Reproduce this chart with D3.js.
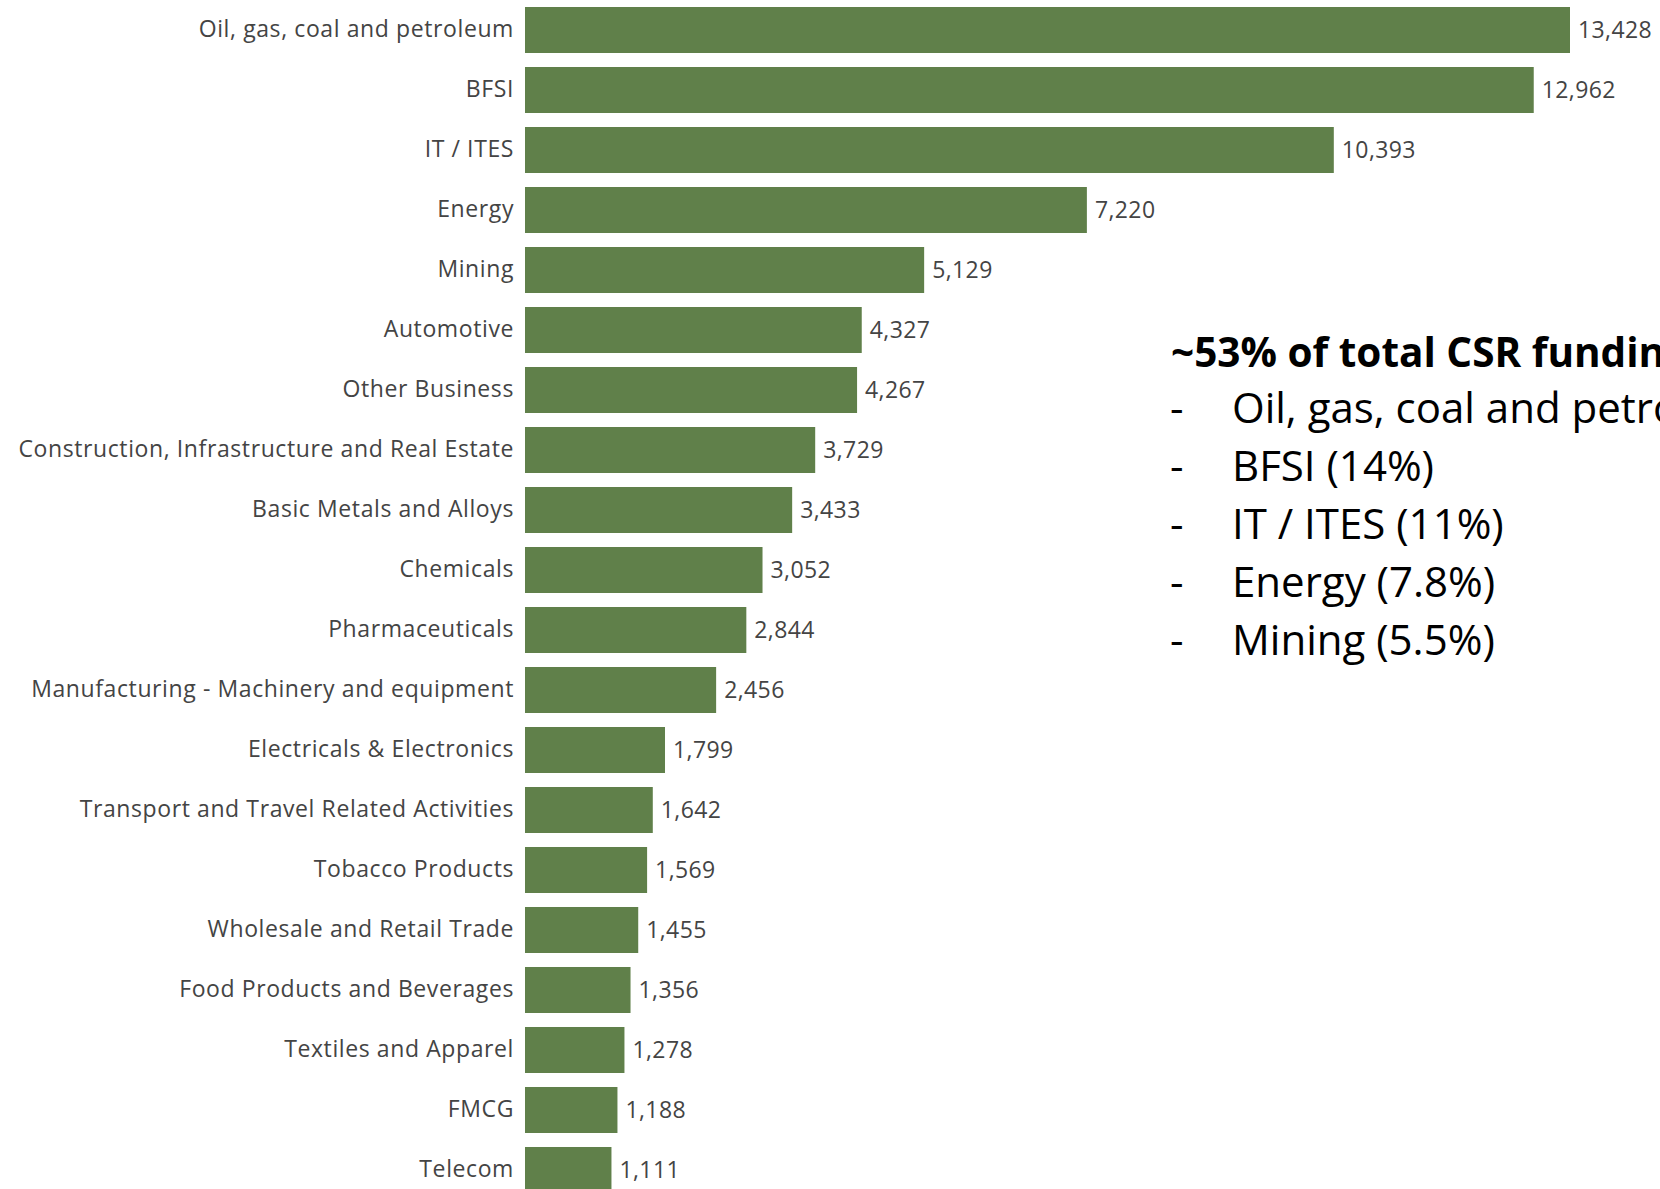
<!DOCTYPE html>
<html>
<head>
<meta charset="utf-8">
<script src="https://cdn.jsdelivr.net/npm/d3@7"></script>
<style>
  html, body { margin: 0; padding: 0; background: #ffffff; overflow: hidden; }
  svg { display: block; }
</style>
</head>
<body>
<svg id="chart" width="1660" height="1189"></svg>
<script>
// CSR spend by industry sector (INR crore)
const categories = [
  "Oil, gas, coal and petroleum",
  "BFSI",
  "IT / ITES",
  "Energy",
  "Mining",
  "Automotive",
  "Other Business",
  "Construction, Infrastructure and Real Estate",
  "Basic Metals and Alloys",
  "Chemicals",
  "Pharmaceuticals",
  "Manufacturing - Machinery and equipment",
  "Electricals & Electronics",
  "Transport and Travel Related Activities",
  "Tobacco Products",
  "Wholesale and Retail Trade",
  "Food Products and Beverages",
  "Textiles and Apparel",
  "FMCG",
  "Telecom"
];
const values = [
  13428, 12962, 10393, 7220, 5129, 4327, 4267, 3729, 3433, 3052,
  2844, 2456, 1799, 1642, 1569, 1455, 1356, 1278, 1188, 1111
];

// Callout text
const calloutTitle = "~53% of total CSR funding";
const calloutItems = [
  "Oil, gas, coal and petroleum (14.5%)",
  "BFSI (14%)",
  "IT / ITES (11%)",
  "Energy (7.8%)",
  "Mining (5.5%)"
];

const data = categories.map((c, i) => ({ category: c, value: values[i] }));
const svg = d3.select("#chart");

const x = d3.scaleLinear()
  .domain([0, d3.max(values)])
  .range([525, 1570]);

const y = d3.scaleBand()
  .domain(categories)
  .range([0, 1200])
  .paddingInner(0.2333)
  .paddingOuter(0.1167);

const labelFont = "'Open Sans', 'Noto Sans', sans-serif";

// bars
svg.append("g")
  .selectAll("rect")
  .data(data)
  .join("rect")
  .attr("x", x(0))
  .attr("y", d => y(d.category))
  .attr("width", d => x(d.value) - x(0))
  .attr("height", y.bandwidth())
  .attr("fill", "#60804a");

// category labels via a left axis without lines
const yAxis = svg.append("g")
  .attr("transform", `translate(${x(0) - 11},0)`)
  .call(d3.axisLeft(y).tickSize(0).tickPadding(0));
yAxis.select(".domain").remove();
yAxis.selectAll("text")
  .attr("fill", "#444444")
  .style("font-family", labelFont)
  .style("font-size", "23px")
  .style("letter-spacing", "0.6px");

// value labels
const fmt = d3.format(",");
svg.append("g")
  .selectAll("text")
  .data(data)
  .join("text")
  .attr("x", d => x(d.value) + 8)
  .attr("y", d => y(d.category) + y.bandwidth() / 2)
  .attr("dy", "0.35em")
  .attr("fill", "#444444")
  .style("font-family", labelFont)
  .style("font-size", "23px")
  .style("letter-spacing", "0.4px")
  .text(d => fmt(d.value));

// callout
const callout = svg.append("g")
  .style("font-family", "'Open Sans', 'Noto Sans', sans-serif")
  .attr("fill", "#000000");

callout.append("text")
  .attr("x", 1171)
  .attr("y", 367)
  .style("font-size", "40.5px")
  .style("font-weight", "700")
  .text(calloutTitle);

const item = callout.selectAll("g.item")
  .data(calloutItems)
  .join("g")
  .attr("class", "item")
  .attr("transform", (d, i) => `translate(0,${423 + i * 58})`);

item.append("text")
  .attr("x", 1170)
  .style("font-size", "42px")
  .text("-");

item.append("text")
  .attr("x", 1232)
  .style("font-size", "42px")
  .text(d => d);
</script>
</body>
</html>
